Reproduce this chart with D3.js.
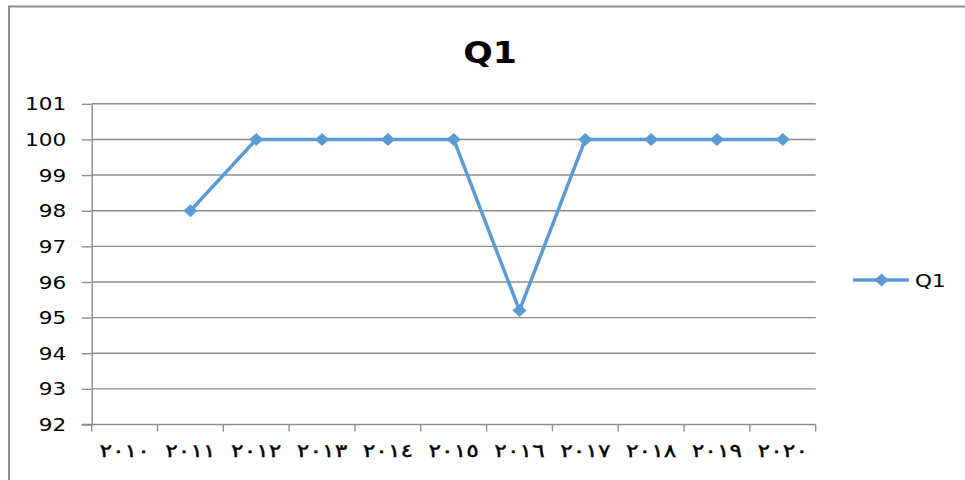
<!DOCTYPE html>
<html>
<head>
<meta charset="utf-8">
<script src="https://cdn.jsdelivr.net/npm/d3@7"></script>
<style>
  html, body { margin: 0; padding: 0; background: #fff; }
  svg { display: block; }
  text { font-family: "DejaVu Sans", Verdana, sans-serif; fill: #000; }
</style>
</head>
<body>
<svg id="chart" width="965" height="480"></svg>
<script>
// ---- data ----
const categories = ["٢٠١٠","٢٠١١","٢٠١٢","٢٠١٣","٢٠١٤","٢٠١٥","٢٠١٦","٢٠١٧","٢٠١٨","٢٠١٩","٢٠٢٠"];
const seriesName = "Q1";
const q1Values = [null, 98, 100, 100, 100, 100, 95.2, 100, 100, 100, 100];
const yTicks = [92, 93, 94, 95, 96, 97, 98, 99, 100, 101];
const chartTitle = "Q1";

// ---- layout ----
const svg = d3.select("#chart");
const plot = { left: 91.7, right: 815.7, top: 103.8, bottom: 424.5 };
const stretch = 1.27;
const gridColor = "#8c8c8c";
const lineColor = "#5b9bd5";

// chart border (left & top visible)
svg.append("path")
  .attr("d", "M9,480 L9,6.5 L965,6.5")
  .attr("fill", "none").attr("stroke", "#8e8e8e").attr("stroke-width", 2);

const x = d3.scaleBand().domain(categories).range([plot.left, plot.right]).padding(0);
const y = d3.scaleLinear().domain([92, 101]).range([plot.bottom, plot.top]);

// gridlines
svg.append("g").selectAll("line").data(yTicks.filter(d => d !== 92)).join("line")
  .attr("x1", plot.left).attr("x2", plot.right)
  .attr("y1", d => y(d)).attr("y2", d => y(d))
  .attr("stroke", gridColor).attr("stroke-width", 1.4);

// y axis
const yAxis = svg.append("g").attr("transform", `translate(${plot.left},0)`)
  .call(d3.axisLeft(y).tickValues(yTicks).tickSize(10).tickSizeOuter(0).tickFormat(d3.format("d")));
yAxis.select(".domain").attr("stroke", gridColor).attr("stroke-width", 1.4);
yAxis.selectAll(".tick line").attr("stroke", gridColor).attr("stroke-width", 1.4);
yAxis.selectAll(".tick text")
  .attr("x", 0).attr("dy", "0.36em")
  .attr("transform", `translate(-25.5,0) scale(${stretch},1)`)
  .style("font-size", "17px").style("font-family", "'DejaVu Sans', sans-serif").attr("fill", "#000");

// x axis: ticks at category boundaries
const boundaries = categories.map(c => x(c)).concat([plot.right]);
const xAxisG = svg.append("g");
xAxisG.append("line")
  .attr("x1", plot.left - 10).attr("x2", plot.right)
  .attr("y1", plot.bottom).attr("y2", plot.bottom)
  .attr("stroke", gridColor).attr("stroke-width", 1.4);
xAxisG.selectAll("line.tk").data(boundaries).join("line").attr("class", "tk")
  .attr("x1", d => d).attr("x2", d => d)
  .attr("y1", plot.bottom).attr("y2", plot.bottom + 7)
  .attr("stroke", gridColor).attr("stroke-width", 1.4);
xAxisG.selectAll("text").data(categories).join("text")
  .attr("transform", d => `translate(${x(d) + x.bandwidth() / 2},457) scale(${stretch},1)`)
  .attr("text-anchor", "middle")
  .attr("direction", "ltr")
  .style("font-size", "18.5px")
  .attr("stroke", "#000").attr("stroke-width", 0.4)
  .text(d => d);

// line series
const pts = categories.map((c, i) => ({ c, v: q1Values[i] })).filter(d => d.v !== null);
const line = d3.line().x(d => x(d.c) + x.bandwidth() / 2).y(d => y(d.v));
svg.append("path").datum(pts)
  .attr("d", line)
  .attr("fill", "none").attr("stroke", lineColor).attr("stroke-width", 3.5)
  .attr("stroke-linejoin", "round");

const diamond = (cx, cy) => `M${cx},${cy - 6.5} L${cx + 7},${cy} L${cx},${cy + 6.5} L${cx - 7},${cy} Z`;
svg.append("g").selectAll("path").data(pts).join("path")
  .attr("d", d => diamond(x(d.c) + x.bandwidth() / 2, y(d.v)))
  .attr("fill", lineColor);

// title
svg.append("text")
  .attr("transform", `translate(490,63) scale(1.12,1)`)
  .attr("text-anchor", "middle")
  .style("font-size", "31px").style("font-weight", "bold")
  .text(chartTitle);

// legend
const lg = svg.append("g");
lg.append("line").attr("x1", 853).attr("x2", 909).attr("y1", 280).attr("y2", 280)
  .attr("stroke", lineColor).attr("stroke-width", 3.5);
lg.append("path").attr("d", diamond(881.5, 280)).attr("fill", lineColor);
lg.append("text")
  .attr("transform", `translate(915,286.5) scale(${stretch},1)`)
  .style("font-size", "17px")
  .text(seriesName);
</script>
</body>
</html>
